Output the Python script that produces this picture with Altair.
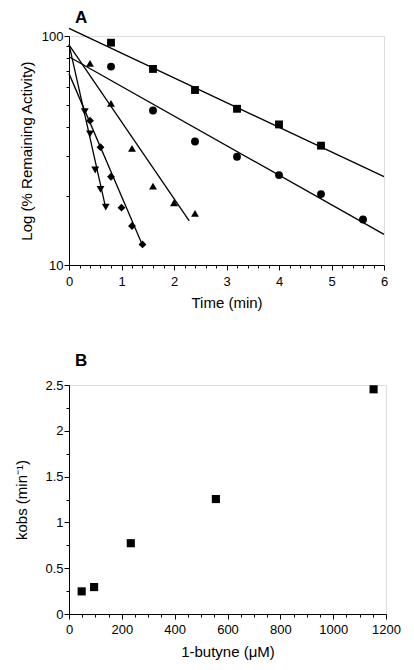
import altair as alt
import pandas as pd

FONT = "Liberation Sans"

# ---------- Panel A data ----------
square_t = [0.8, 1.6, 2.4, 3.2, 4.0, 4.8]
square_v = [93.5, 71.8, 58.1, 48.1, 41.1, 33.2]
circle_t = [0.8, 1.6, 2.4, 3.2, 4.0, 4.8, 5.6]
circle_v = [73.5, 47.3, 34.6, 29.7, 24.7, 20.4, 15.8]
triup_t = [0.4, 0.8, 1.2, 1.6, 2.0, 2.4]
triup_v = [76.0, 50.8, 32.3, 22.1, 18.7, 16.8]
diamond_t = [0.4, 0.6, 0.8, 1.0, 1.2, 1.4]
diamond_v = [42.7, 32.7, 24.3, 17.8, 14.8, 12.3]
tridown_t = [0.3, 0.4, 0.5, 0.6, 0.7]
tridown_v = [46.7, 37.4, 26.0, 21.4, 17.9]

# fitted lines: start and end points (time, activity)
fit_series = ["square", "circle", "triup", "diamond", "tridown"]
fit_t0 = [0, 0, 0, 0, 0]
fit_v0 = [108.0, 81.2, 91.5, 68.5, 92.0]
fit_t1 = [6.0, 6.0, 2.29, 1.40, 0.70]
fit_v1 = [24.3, 13.6, 15.6, 12.2, 17.7]

# ---------- Panel B data ----------
butyne_uM = [48, 95, 234, 556, 1153]
kobs = [0.247, 0.294, 0.773, 1.255, 2.453]

# ---------- tick values (major + minor) ----------
x_ticks_A = [round(i * 0.2, 1) for i in range(31)]
y_ticks_A = [10, 20, 30, 40, 50, 60, 70, 80, 90, 100]
x_ticks_B = list(range(0, 1201, 50))
y_ticks_B = [i * 0.25 for i in range(11)]

# ---------- build tables ----------
pts = []
for name, ts, vs in [("square", square_t, square_v), ("circle", circle_t, circle_v),
                     ("triup", triup_t, triup_v), ("diamond", diamond_t, diamond_v),
                     ("tridown", tridown_t, tridown_v)]:
    for t, v in zip(ts, vs):
        pts.append({"series": name, "t": t, "v": v})
pts_df = pd.DataFrame(pts)

lines = []
for s, a, b, c, d in zip(fit_series, fit_t0, fit_v0, fit_t1, fit_v1):
    lines.append({"series": s, "t": a, "v": b})
    lines.append({"series": s, "t": c, "v": d})
lines_df = pd.DataFrame(lines)

b_df = pd.DataFrame({"c": butyne_uM, "k": kobs})

axis_common = dict(grid=False, domainColor="black", tickColor="black", labelColor="black",
                   titleColor="black", labelFont=FONT, titleFont=FONT, labelFontSize=13,
                   titleFontSize=15, titleFontWeight="normal", domainWidth=1, tickWidth=1,
                   labelOverlap=False, labelBound=False, labelFlush=False)


def major_axis(values, test, fmt, title, orient, label_pad, title_pad):
    return alt.Axis(
        values=values, format=fmt, title=title, orient=orient,
        labelExpr=f"({test}) ? datum.label : ''",
        tickSize={"condition": {"test": test, "value": 5}, "value": 3},
        labelPadding=label_pad, titlePadding=title_pad, **axis_common)


xs_A = alt.Scale(domain=[0, 6], nice=False, zero=False)
ys_A = alt.Scale(type="log", domain=[10, 100], nice=False)

xA_axis = major_axis(x_ticks_A, "abs(datum.value - round(datum.value)) < 0.001", "~g",
                     "Time (min)", "bottom", 5, 7)
yA_axis = major_axis(y_ticks_A, "datum.value == 10 || datum.value == 100", "d",
                     "Log (% Remaining Activity)", "left", 1, 7)

lineA = alt.Chart(lines_df).mark_line(color="black", strokeWidth=1.3, clip=False).encode(
    x=alt.X("t:Q", scale=xs_A, axis=xA_axis),
    y=alt.Y("v:Q", scale=ys_A, axis=yA_axis),
    detail="series:N",
)

ptsA = alt.Chart(pts_df).mark_point(filled=True, color="black", opacity=1).encode(
    x=alt.X("t:Q", scale=xs_A, axis=xA_axis),
    y=alt.Y("v:Q", scale=ys_A, axis=yA_axis),
    shape=alt.Shape("series:N", legend=None,
                    scale=alt.Scale(domain=fit_series,
                                    range=["square", "circle", "triangle-up", "diamond", "triangle-down"])),
    size=alt.Size("series:N", legend=None,
                  scale=alt.Scale(domain=fit_series, range=[62, 62, 75, 62, 75])),
)

chartA = alt.layer(lineA, ptsA).properties(
    width=315, height=229,
    title=alt.TitleParams("A", anchor="start", font=FONT, fontSize=17, fontWeight="bold",
                          color="black", dx=6, offset=-1, frame="group"),
)

xs_B = alt.Scale(domain=[0, 1200], nice=False, zero=False)
ys_B = alt.Scale(domain=[0, 2.5], nice=False)

xB_axis = major_axis(x_ticks_B, "datum.value % 200 == 0", "d", "1-butyne (μM)", "bottom", 4, 8)
yB_axis = major_axis(y_ticks_B, "datum.value % 0.5 == 0", "~g", "kobs (min⁻¹)", "left", 1, 15)

ptsB = alt.Chart(b_df).mark_point(filled=True, color="black", opacity=1, shape="square", size=66).encode(
    x=alt.X("c:Q", scale=xs_B, axis=xB_axis),
    y=alt.Y("k:Q", scale=ys_B, axis=yB_axis),
)

chartB = ptsB.properties(
    width=317, height=229,
    title=alt.TitleParams("B", anchor="start", font=FONT, fontSize=17, fontWeight="bold",
                          color="black", dx=6, offset=9, frame="group"),
)

chart = alt.vconcat(chartA, chartB, spacing=40).configure_view(stroke=None).configure(
    background="white", padding={"left": 6, "top": 0, "right": 5, "bottom": 5}
)

chart.save("out.html", embed_options={"renderer": "svg", "actions": False})
